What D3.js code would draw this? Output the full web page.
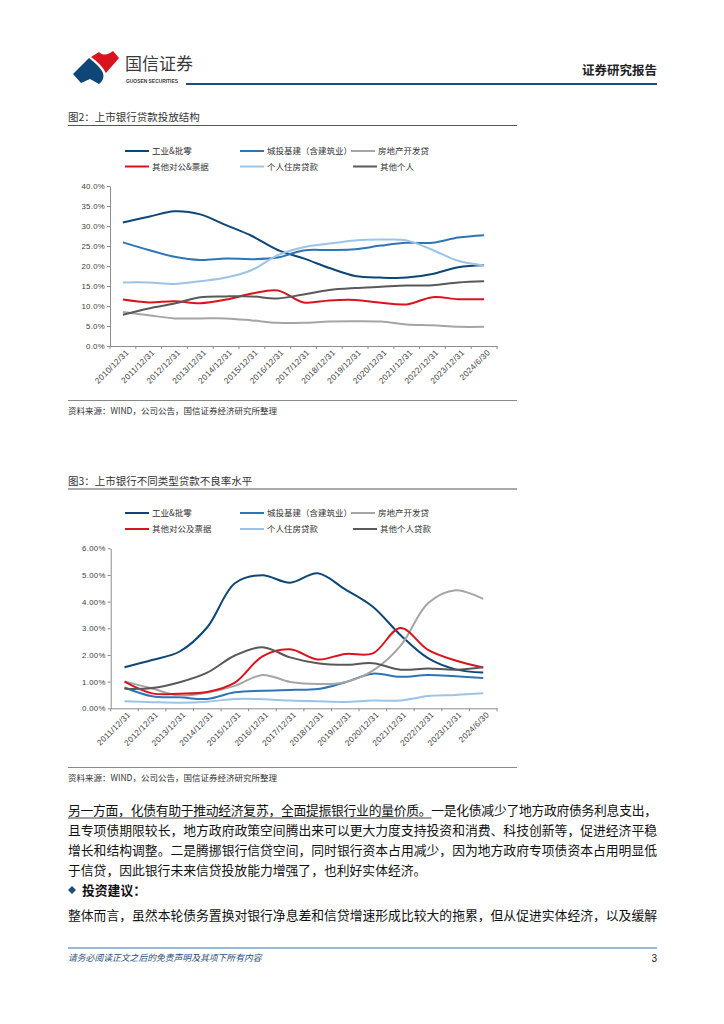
<!DOCTYPE html>
<html><head><meta charset="utf-8">
<script src="https://cdn.jsdelivr.net/npm/d3@7"></script>
<style>body{margin:0;background:#fff} svg{display:block}</style>
</head><body><svg id="page" width="724" height="1024"></svg>
<script>
// ---------- DATA ----------
const cats1 = ["2010/12/31","2011/12/31","2012/12/31","2013/12/31","2014/12/31","2015/12/31","2016/12/31","2017/12/31","2018/12/31","2019/12/31","2020/12/31","2021/12/31","2022/12/31","2023/12/31","2024/6/30"];
const names1 = ["工业&批零","城投基建（含建筑业）","房地产开发贷","其他对公&票据","个人住房贷款","其他个人"];
const industry1   = [30.9,32.3,33.7,32.9,30.2,27.5,24.0,21.9,19.5,17.5,17.1,17.1,18.0,19.7,20.2];
const chengtou1   = [25.9,24.0,22.3,21.5,21.9,21.7,22.1,23.9,24.0,24.2,25.1,25.8,25.8,27.1,27.7];
const realestate1 = [8.5,7.7,6.9,6.9,6.9,6.4,5.8,5.8,6.1,6.2,6.1,5.4,5.2,4.8,4.8];
const othercorp1  = [11.6,10.9,11.2,10.7,11.6,13.1,13.9,10.9,11.4,11.5,10.8,10.4,12.2,11.7,11.7];
const housing1    = [15.9,15.9,15.5,16.2,17.1,19.0,22.7,24.7,25.6,26.4,26.6,26.4,24.0,21.3,20.1];
const otherpers1  = [7.8,9.4,10.6,12.2,12.4,12.4,11.9,12.9,14.0,14.5,14.8,15.1,15.2,15.9,16.2];
const yTicks1 = [0,5,10,15,20,25,30,35,40];

const cats2 = ["2011/12/31","2012/12/31","2013/12/31","2014/12/31","2015/12/31","2016/12/31","2017/12/31","2018/12/31","2019/12/31","2020/12/31","2021/12/31","2022/12/31","2023/12/31","2024/6/30"];
const names2 = ["工业&批零","城投基建（含建筑业）","房地产开发贷","其他对公及票据","个人住房贷款","其他个人贷款"];
const industry2   = [1.54,1.81,2.13,3.04,4.69,4.99,4.71,5.06,4.46,3.81,2.75,1.88,1.46,1.34];
const chengtou2   = [0.78,0.45,0.41,0.35,0.60,0.66,0.69,0.72,0.98,1.30,1.18,1.25,1.20,1.14];
const realestate2 = [1.01,0.74,0.48,0.59,0.84,1.25,0.99,0.91,0.98,1.41,2.34,3.94,4.43,4.10];
const othercorp2  = [1.00,0.56,0.55,0.61,0.96,1.95,2.21,1.83,2.04,2.06,3.01,2.19,1.79,1.53];
const housing2    = [0.26,0.23,0.21,0.25,0.35,0.34,0.29,0.26,0.24,0.29,0.29,0.46,0.50,0.56];
const otherpers2  = [0.73,0.76,0.98,1.34,1.98,2.29,1.91,1.69,1.63,1.69,1.45,1.49,1.45,1.54];
const yTicks2 = [0,1,2,3,4,5,6];

const colors = ["#0e4677","#2e75b6","#a5a5a5","#d9141e","#9dc3e6","#595959"];

// ---------- PAGE ----------
const svg = d3.select("#page");
svg.append("rect").attr("width",724).attr("height",1024).attr("fill","#fff");
const CJK = "'Noto Sans CJK SC','Noto Sans',sans-serif";
const LAT = "'Liberation Sans',Arial,sans-serif";

// Header logo
const logo = svg.append("g");
logo.append("path").attr("d","M73,74 L89,58 C94,62 99,66 102,71 C105,76 103,81 99,84 L90,79 L81,83 Z").attr("fill","#0e4677");
logo.append("path").attr("d","M91,57 L99,52 C103,56 108,55 113,51 L119,58 C115,63 110,68 106,73 C102,66 97,61 91,57 Z").attr("fill","#d9141e");
logo.append("text").attr("x",125).attr("y",70).attr("font-family",CJK).attr("font-size",17).attr("fill","#3a3a3a").text("国信证券");
logo.append("text").attr("x",126).attr("y",82.5).attr("font-family",LAT).attr("font-size",6).attr("font-weight","bold").attr("fill","#3a3a3a")
  .attr("textLength",52).attr("lengthAdjust","spacingAndGlyphs").text("GUOSEN SECURITIES");
svg.append("text").attr("x",657).attr("y",75).attr("text-anchor","end").attr("font-family",CJK).attr("font-size",12.5).attr("font-weight","bold").attr("fill","#222").text("证券研究报告");
svg.append("line").attr("x1",186).attr("x2",657).attr("y1",84).attr("y2",84).attr("stroke","#1f4e79").attr("stroke-width",2);

function drawChart(cfg){
  const g = svg.append("g");
  g.append("text").attr("x",68).attr("y",cfg.titleY).attr("font-family",CJK).attr("font-size",10.5).attr("fill","#333").text(cfg.title);
  g.append("line").attr("x1",68).attr("x2",517).attr("y1",cfg.titleRuleY).attr("y2",cfg.titleRuleY).attr("stroke","#555").attr("stroke-width",1);
  g.append("line").attr("x1",68).attr("x2",517).attr("y1",cfg.srcRuleY).attr("y2",cfg.srcRuleY).attr("stroke","#888").attr("stroke-width",1);
  g.append("text").attr("x",68).attr("y",cfg.srcY).attr("font-family",CJK).attr("font-size",8.5).attr("fill","#333").text("资料来源：WIND，公司公告，国信证券经济研究所整理");

  const legPos = [[125,cfg.legY[0]],[240,cfg.legY[0]],[351,cfg.legY[0]],[125,cfg.legY[1]],[240,cfg.legY[1]],[353,cfg.legY[1]]];
  cfg.series.forEach((s,i)=>{
    const [lx,ly] = legPos[i];
    g.append("line").attr("x1",lx).attr("x2",lx+24).attr("y1",ly).attr("y2",ly).attr("stroke",colors[i]).attr("stroke-width",2);
    g.append("text").attr("x",lx+27).attr("y",ly+3).attr("font-family",CJK).attr("font-size",8.5).attr("fill","#333").text(cfg.names[i]);
  });

  const band = d3.scaleBand().domain(cfg.cats).range([cfg.x0,cfg.x1]);
  const xp = d3.scalePoint().domain(cfg.cats).range([cfg.x0,cfg.x1]).padding(0.5);
  const y = d3.scaleLinear().domain([0,cfg.yMax]).range([cfg.yBot,cfg.yTop]);

  const ya = g.append("g").attr("transform",`translate(${cfg.x0},0)`)
    .call(d3.axisLeft(y).tickValues(cfg.yTicks).tickSize(3).tickSizeOuter(0).tickFormat(cfg.fmt));
  ya.selectAll("path,line").attr("stroke","#8c8c8c");
  ya.selectAll("text").attr("font-family",LAT).attr("font-size",7.8).attr("fill","#404040").attr("x",-5).attr("letter-spacing",0.3);

  const xa = g.append("g").attr("transform",`translate(0,${cfg.yBot})`)
    .call(d3.axisBottom(xp).tickSize(0).tickSizeOuter(0));
  xa.select("path").attr("stroke","#8c8c8c");
  xa.selectAll("text").attr("font-family",LAT).attr("font-size",8.2).attr("fill","#404040").attr("letter-spacing",0.3)
    .attr("text-anchor","end").attr("y",0).attr("x",0).attr("dy","0.35em")
    .attr("transform","translate(4,5) rotate(-45)");
  const bounds = cfg.cats.map(c=>band(c)).concat([cfg.x1]);
  g.append("g").selectAll("line").data(bounds).join("line")
    .attr("x1",d=>d).attr("x2",d=>d).attr("y1",cfg.yBot).attr("y2",cfg.yBot+3).attr("stroke","#8c8c8c");

  const line = d3.line().x((d,i)=>xp(cfg.cats[i])).y(d=>y(d)).curve(d3.curveCatmullRom.alpha(0.5));
  cfg.series.forEach((s,i)=>{
    g.append("path").attr("d",line(s)).attr("fill","none").attr("stroke",colors[i]).attr("stroke-width",2).attr("stroke-linejoin","round");
  });
}

drawChart({
  title:"图2：上市银行贷款投放结构", titleY:121, titleRuleY:125.5,
  legY:[151,166.5], cats:cats1, names:names1,
  series:[industry1,chengtou1,realestate1,othercorp1,housing1,otherpers1],
  x0:110, x1:497, yTop:186, yBot:346, yMax:40, yTicks:yTicks1,
  fmt:d=>d3.format(".1f")(d)+"%", srcRuleY:400.5, srcY:414
});
drawChart({
  title:"图3：上市银行不同类型贷款不良率水平", titleY:485, titleRuleY:489,
  legY:[513,529], cats:cats2, names:names2,
  series:[industry2,chengtou2,realestate2,othercorp2,housing2,otherpers2],
  x0:110.7, x1:497, yTop:548.3, yBot:708.3, yMax:6, yTicks:yTicks2,
  fmt:d=>d3.format(".2f")(d)+"%", srcRuleY:767.5, srcY:781
});

// ---------- BODY TEXT ----------
const para = [
  {t:["另一方面，化债有助于推动经济复苏，全面提振银行业的量价质。","一是化债减少了地方政府债务利息支出，"], y:815, j:true},
  {t:["且专项债期限较长，地方政府政策空间腾出来可以更大力度支持投资和消费、科技创新等，促进经济平稳"], y:835, j:true},
  {t:["增长和结构调整。二是腾挪银行信贷空间，同时银行资本占用减少，因为地方政府专项债资本占用明显低"], y:855, j:true},
  {t:["于信贷，因此银行未来信贷投放能力增强了，也利好实体经济。"], y:875, j:false},
  {t:["整体而言，虽然本轮债务置换对银行净息差和信贷增速形成比较大的拖累，但从促进实体经济，以及缓解"], y:920, j:true}
];
let firstNode = null;
para.forEach((p,pi)=>{
  const tx = svg.append("text").attr("x",68).attr("y",p.y).attr("font-family",CJK).attr("font-size",12.8).attr("fill","#111");
  if(p.j) tx.attr("textLength",589).attr("lengthAdjust","spacing");
  p.t.forEach(s=>tx.append("tspan").text(s));
  if(pi===0) firstNode = tx.node();
});
{
  const n = "另一方面，化债有助于推动经济复苏，全面提振银行业的量价质。".length;
  const end = firstNode.getEndPositionOfChar(n-1).x;
  svg.append("line").attr("x1",68).attr("x2",end).attr("y1",818).attr("y2",818).attr("stroke","#111").attr("stroke-width",0.8);
}
svg.append("path").attr("d","M72,886 L76,890 L72,894 L68,890 Z").attr("fill","#1f4e79");
svg.append("text").attr("x",82).attr("y",895).attr("font-family",CJK).attr("font-size",12.8).attr("font-weight","bold").attr("fill","#111").text("投资建议：");

// ---------- FOOTER ----------
svg.append("line").attr("x1",68).attr("x2",657).attr("y1",948).attr("y2",948).attr("stroke","#2e75b6").attr("stroke-width",1);
svg.append("text").attr("x",68).attr("y",961).attr("font-family",CJK).attr("font-size",8.8).attr("font-style","italic").attr("fill","#1f4e79").text("请务必阅读正文之后的免责声明及其项下所有内容");
svg.append("text").attr("x",657).attr("y",962).attr("text-anchor","end").attr("font-family",LAT).attr("font-size",10).attr("fill","#222").text("3");
</script></body></html>
